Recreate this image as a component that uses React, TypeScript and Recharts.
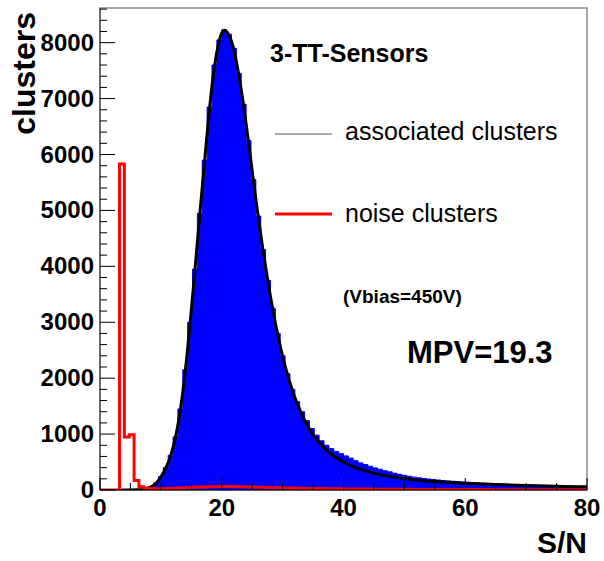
import React from "react";
import { Area, ComposedChart, Line, ReferenceArea, XAxis, YAxis } from "recharts";

// histogram: 100 bins of width 0.8 from 0 to 80
const binWidth = 0.8;

const assocCounts = [
  0, 0, 0, 0, 0, 0, 0, 0, 8, 25,
  60, 130, 240, 400, 620, 950, 1450, 2150, 3000, 3950,
  4950, 5900, 6850, 7600, 8050, 8230, 8150, 7900, 7450, 6900,
  6250, 5550, 4900, 4300, 3750, 3250, 2800, 2400, 2080, 1800,
  1580, 1400, 1240, 1100, 980, 880, 800, 740, 690, 650,
  610, 570, 525, 485, 455, 425, 395, 370, 345, 325,
  300, 280, 262, 245, 230, 218, 206, 196, 187, 178,
  170, 163, 156, 150, 144, 138, 132, 127, 122, 118,
  114, 110, 106, 103, 99, 96, 93, 90, 88, 85,
  83, 81, 79, 77, 75, 73, 71, 70, 68, 67,
];

const noiseCounts = [
  0, 0, 0, 0, 5830, 950, 990, 170, 60, 35,
  25, 22, 22, 25, 28, 32, 36, 40, 44, 48,
  52, 55, 58, 60, 62, 62, 62, 60, 58, 56,
  54, 52, 50, 48, 45, 43, 40, 38, 36, 34,
  32, 30, 28, 27, 26, 25, 24, 23, 22, 21,
  20, 19, 18, 18, 17, 16, 15, 15, 14, 14,
  13, 13, 12, 12, 11, 11, 10, 10, 10, 9,
  9, 9, 8, 8, 8, 8, 7, 7, 7, 7,
  6, 6, 6, 6, 6, 6, 5, 5, 5, 5,
  5, 5, 4, 4, 4, 4, 4, 4, 3, 3,
];

// Landau fit curve
const fitX = [
  3.5, 5, 6, 7, 7.6, 8.4, 9.2, 10, 10.8, 11.6, 12.4, 13.2, 14, 14.8, 15.6, 16.4,
  17.2, 18, 18.8, 19.6, 20.4, 21.2, 22, 22.8, 23.6, 24.4, 25.2, 26, 26.8, 27.6,
  28.4, 29.2, 30, 31, 32, 33, 34, 35, 36, 38, 40, 42, 44, 46, 48, 50, 52, 55,
  60, 65, 70, 75, 80,
];
const fitY = [
  0, 1, 3, 10, 22, 55, 120, 230, 390, 610, 940, 1430, 2120, 2980, 3940, 4940,
  5900, 6830, 7570, 8040, 8220, 8130, 7870, 7420, 6870, 6220, 5530, 4880, 4270, 3720,
  3220, 2780, 2390, 1990, 1660, 1390, 1170, 990, 850, 640, 500, 400, 330, 275, 235, 205, 180, 150,
  120, 97, 80, 66, 56,
];

const xTicks = [0, 5, 10, 15, 20, 25, 30, 35, 40, 45, 50, 55, 60, 65, 70, 75, 80];
const xLabeled = [0, 20, 40, 60, 80];
const yLabeled = [0, 1000, 2000, 3000, 4000, 5000, 6000, 7000, 8000];
const yTicks = Array.from({ length: 44 }, (_, i) => i * 200);

const histRows = assocCounts.map((v, i) => ({
  x: +(i * binWidth).toFixed(1),
  assoc: v,
  noise: noiseCounts[i],
}));
histRows.push({
  x: 80,
  assoc: assocCounts[assocCounts.length - 1],
  noise: noiseCounts[noiseCounts.length - 1],
});

const fitRows = fitX.map((x, i) => ({ x, fit: fitY[i] }));

const FONT = "'Liberation Sans', Arial, Helvetica, sans-serif";

function renderXTick(props: any) {
  const { x, y, payload } = props;
  const major = xLabeled.includes(payload.value);
  return (
    <g>
      <line x1={x} x2={x} y1={y} y2={y - (major ? 12 : 7)} stroke="#000" strokeWidth={1} />
      {major && (
        <text x={x} y={y + 26} textAnchor="middle" fontFamily={FONT} fontWeight="bold" fontSize={24} fill="#000">
          {payload.value}
        </text>
      )}
    </g>
  );
}

function renderYTick(props: any) {
  const { x, y, payload } = props;
  const major = yLabeled.includes(payload.value);
  return (
    <g>
      <line x1={x} x2={x + (major ? 15 : 7)} y1={y} y2={y} stroke="#000" strokeWidth={1} />
      {major && (
        <text x={x - 6} y={y + 8} textAnchor="end" fontFamily={FONT} fontWeight="bold" fontSize={24} fill="#000">
          {payload.value}
        </text>
      )}
    </g>
  );
}

export default function App() {
  return (
    <div style={{ position: "absolute", left: 0, top: 0, width: 604, height: 561, background: "#fff" }}>
      <ComposedChart
        width={604}
        height={561}
        data={histRows}
        margin={{ top: 8, right: 17, bottom: 0, left: 0 }}
      >
        <XAxis
          dataKey="x"
          type="number"
          domain={[0, 80]}
          ticks={xTicks}
          interval={0}
          tick={renderXTick}
          tickLine={false}
          tickSize={0}
          tickMargin={0}
          height={71}
          allowDataOverflow
          axisLine={{ stroke: "#000" }}
        />
        <YAxis
          type="number"
          domain={[0, 8620]}
          ticks={yTicks}
          interval={0}
          tick={renderYTick}
          tickLine={false}
          tickSize={0}
          tickMargin={0}
          width={100}
          allowDataOverflow
          axisLine={{ stroke: "#333" }}
        />
        <ReferenceArea x1={0} x2={80} y1={0} y2={8620} fill="none" stroke="#8c8c8c" strokeWidth={1.5} />
        <Area
          dataKey="assoc"
          type="stepAfter"
          fill="#0000ff"
          fillOpacity={1}
          stroke="#0000ff"
          strokeWidth={1}
          dot={false}
          activeDot={false}
          isAnimationActive={false}
        />
        <Line
          data={fitRows}
          dataKey="fit"
          type="monotone"
          stroke="#000"
          strokeWidth={3}
          dot={false}
          activeDot={false}
          isAnimationActive={false}
        />
        <Line
          dataKey="noise"
          type="stepAfter"
          stroke="#ff0000"
          strokeWidth={3}
          dot={false}
          activeDot={false}
          isAnimationActive={false}
        />
      </ComposedChart>

      <svg
        width={604}
        height={561}
        style={{ position: "absolute", left: 0, top: 0, pointerEvents: "none" }}
      >
        <g fontFamily={FONT} fill="#000">
          <text x={35} y={12} transform="rotate(-90 35 12)" textAnchor="end" fontSize={32} fontWeight="bold">
            clusters
          </text>
          <text x={587} y={553} textAnchor="end" fontSize={30} fontWeight="bold">
            S/N
          </text>
          <text x={270} y={62} fontSize={25} fontWeight="bold">
            3-TT-Sensors
          </text>
          <line x1={275} x2={332} y1={134} y2={134} stroke="#555" strokeWidth={1} />
          <text x={345} y={140} fontSize={25}>
            associated clusters
          </text>
          <line x1={275} x2={332} y1={214} y2={214} stroke="#ff0000" strokeWidth={3} />
          <text x={345} y={222} fontSize={25}>
            noise clusters
          </text>
          <text x={343} y={303} fontSize={19} fontWeight="bold">
            (Vbias=450V)
          </text>
          <text x={407} y={363} fontSize={31} fontWeight="bold">
            MPV=19.3
          </text>
        </g>
      </svg>
    </div>
  );
}
